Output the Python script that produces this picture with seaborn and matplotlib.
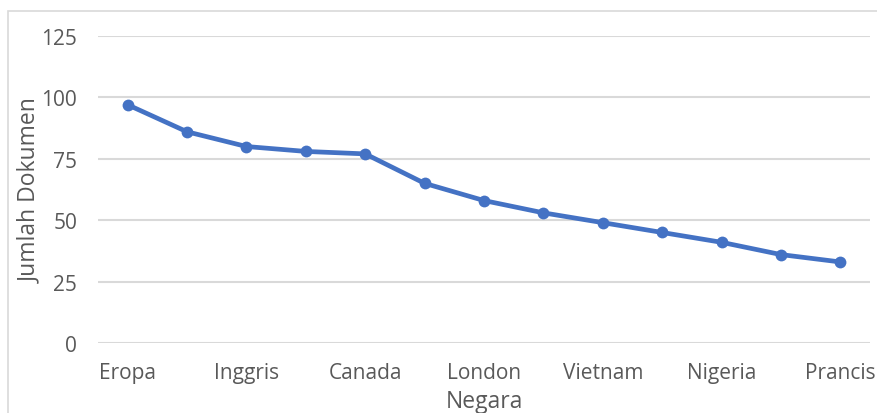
import matplotlib
matplotlib.use('Agg')
import matplotlib.pyplot as plt
import numpy as np
import seaborn as sns
from matplotlib.patches import Rectangle

# data
posisi = np.arange(13)
jumlah = [97, 86, 80, 78, 77, 65, 58, 53, 49, 45, 41, 36, 33]
label_negara = ['Eropa', 'Inggris', 'Canada', 'London', 'Vietnam', 'Nigeria', 'Prancis']
yticks = [0, 25, 50, 75, 100, 125]

sns.set_style('white')
plt.rcParams['font.family'] = ['Open Sans', 'DejaVu Sans']

fig = plt.figure(figsize=(8.77, 4.14), dpi=100)
ax = fig.add_axes([98/877, 1-344/414, 772/877, 307/414])

# border of the chart area
fig.patches.append(Rectangle((8/877, -0.1), 1.2, 1-12/414+0.1, transform=fig.transFigure,
                             fill=False, edgecolor='#d9d9d9', linewidth=1.2))

sns.lineplot(x=posisi, y=jumlah, ax=ax, color='#4472c4', linewidth=3.4,
             marker='o', markersize=8.5, markeredgewidth=0)

ax.set_xlim(-0.5, 12.5)
ax.set_ylim(0, 125)
ax.set_yticks(yticks)
ax.set_xticks(posisi[::2])
ax.set_xticklabels(label_negara)
ax.yaxis.grid(True, color='#d9d9d9', linewidth=1.5)
ax.xaxis.grid(False)
ax.set_axisbelow(True)
for s in ax.spines.values():
    s.set_visible(False)
ax.tick_params(axis='both', length=0, labelsize=15, labelcolor='#595959')
ax.tick_params(axis='y', pad=15)
ax.tick_params(axis='x', pad=14)

ax.set_xlabel('Negara', fontsize=16.5, color='#595959')
ax.set_ylabel('Jumlah Dokumen', fontsize=16.5, color='#595959')
ax.xaxis.set_label_coords(0.5, -0.15)
ax.yaxis.set_label_coords(-0.072, 0.5)

plt.savefig('out.png', dpi=100)
